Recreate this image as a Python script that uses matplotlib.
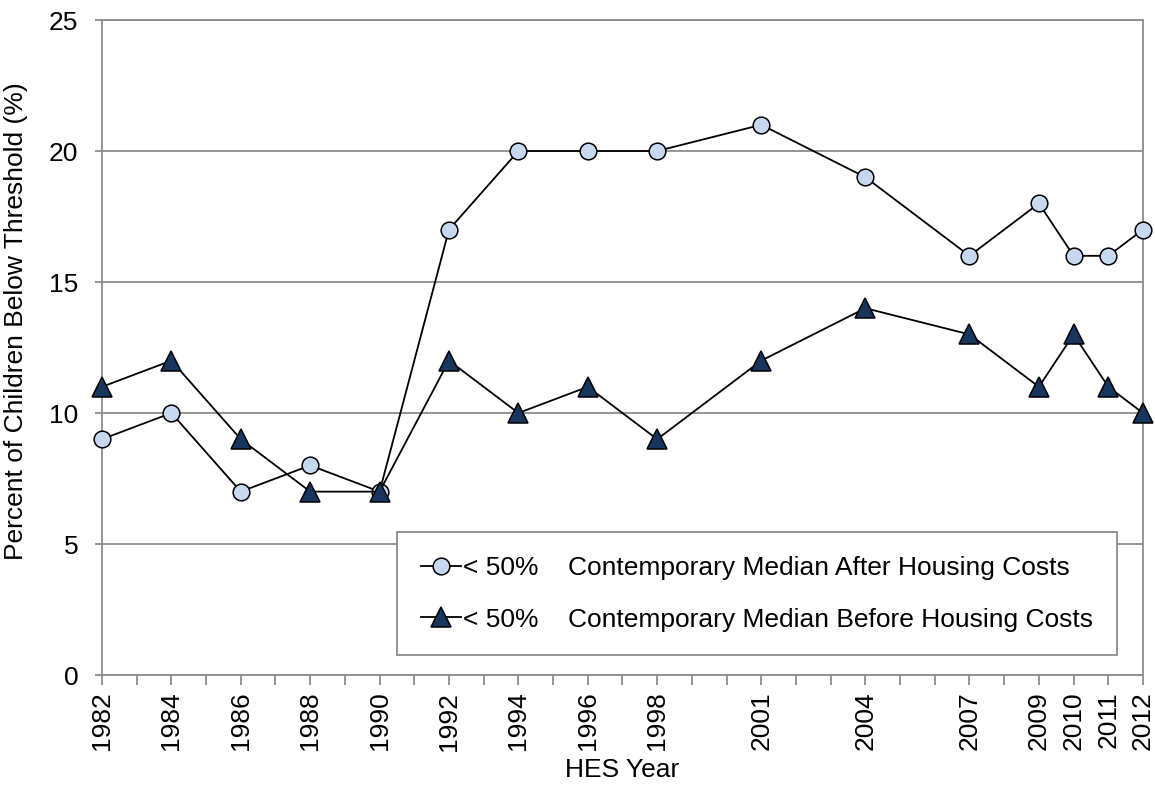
import matplotlib
matplotlib.use("Agg")
import matplotlib.pyplot as plt

years = [1982, 1984, 1986, 1988, 1990, 1992, 1994, 1996, 1998, 2001, 2004, 2007, 2009, 2010, 2011, 2012]
ahc = [9, 10, 7, 8, 7, 17, 20, 20, 20, 21, 19, 16, 18, 16, 16, 17]
bhc = [11, 12, 9, 7, 7, 12, 10, 11, 9, 12, 14, 13, 11, 13, 11, 10]
label_ahc = "< 50%    Contemporary Median After Housing Costs"
label_bhc = "< 50%    Contemporary Median Before Housing Costs"
y_ticks = [0, 5, 10, 15, 20, 25]

plt.rcParams['font.family'] = ['Liberation Sans', 'DejaVu Sans']
FS = 19

fig = plt.figure(figsize=(11.55, 7.85), dpi=100)
ax = fig.add_axes([0.0883, 0.1401, 0.9013, 0.8344])

grey = '#8c8c8c'
ax.plot(years, ahc, color='black', lw=1.3, marker='o', markersize=12,
        markerfacecolor='#c6d9f1', markeredgecolor='black', markeredgewidth=1.1,
        label=label_ahc, zorder=3, clip_on=False)
ax.plot(years, bhc, color='black', lw=1.3, marker='^', markersize=14,
        markerfacecolor='#17365d', markeredgecolor='black', markeredgewidth=1.1,
        label=label_bhc, zorder=4, clip_on=False)

ax.set_xlim(1982, 2012)
ax.set_ylim(0, 25)
ax.set_yticks(y_ticks)
ax.yaxis.grid(True, color=grey, lw=1.3)
ax.set_axisbelow(True)
ax.set_xticks(list(range(1982, 2013)))
ax.set_xticklabels([str(y) if y in years else '' for y in range(1982, 2013)],
                   rotation=90, fontsize=FS)
ax.tick_params(axis='x', direction='out', length=7, width=1.3, color=grey, pad=5)
ax.tick_params(axis='y', direction='out', length=5, width=1.3, color=grey, labelsize=FS, pad=12)
for s in ax.spines.values():
    s.set_color(grey)
    s.set_linewidth(1.3)

ax.set_xlabel("HES Year", fontsize=FS, labelpad=5)
ax.set_ylabel("Percent of Children Below Threshold (%)", fontsize=FS)
ax.yaxis.set_label_coords(-0.071, 0.54)

leg = ax.legend(loc='lower right', bbox_to_anchor=(0.975, 0.03), fontsize=FS,
                frameon=True, fancybox=False, edgecolor=grey, framealpha=1,
                handlelength=1.5, handletextpad=0.1, labelspacing=1.05,
                borderpad=0.9, borderaxespad=0)
leg.get_frame().set_linewidth(1.3)

fig.savefig("out.png", dpi=100)
